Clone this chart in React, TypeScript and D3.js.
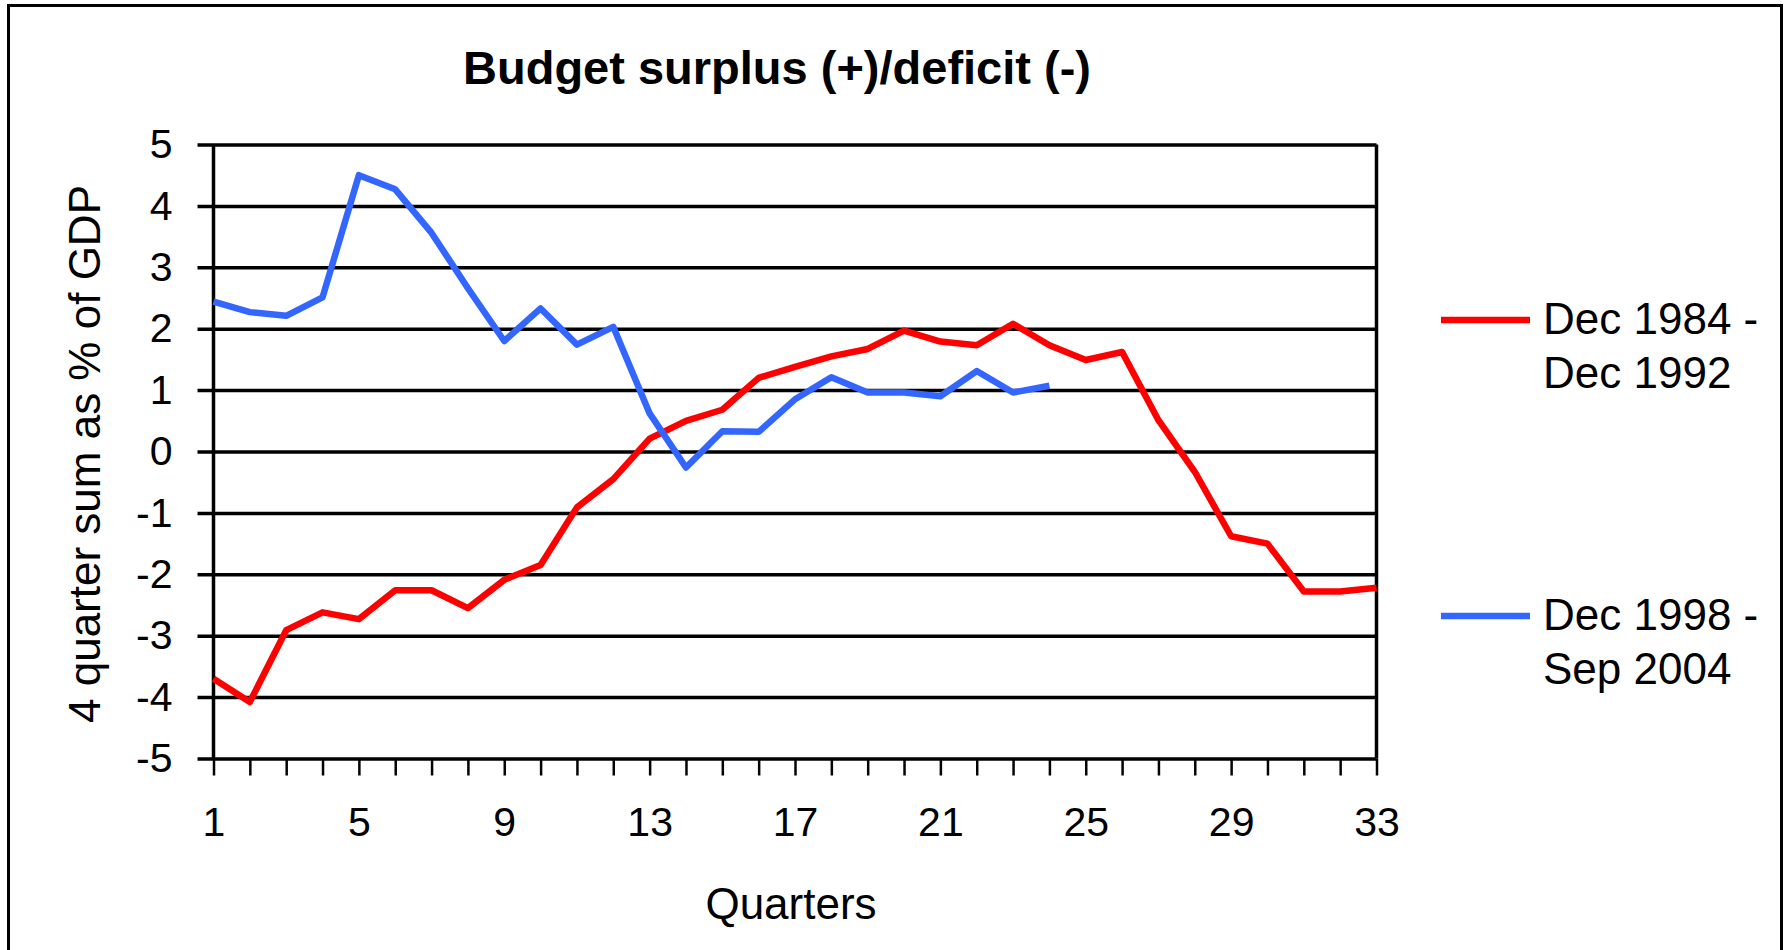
import { useRef, useEffect } from "react";
import * as d3 from "d3";

// quarters 1..33
const quarters = d3.range(1, 34);
const xTickLabels = [1, 5, 9, 13, 17, 21, 25, 29, 33];
const yTicks = [5, 4, 3, 2, 1, 0, -1, -2, -3, -4, -5];

// Dec 1984 - Dec 1992
const series1984 = [
  -3.7, -4.08, -2.91, -2.62, -2.73, -2.26, -2.26, -2.55, -2.09, -1.85, -0.91,
  -0.45, 0.21, 0.5, 0.68, 1.2, 1.38, 1.55, 1.67, 1.97, 1.79, 1.73, 2.08, 1.73,
  1.49, 1.62, 0.51, -0.33, -1.38, -1.5, -2.28, -2.28, -2.22,
];
// Dec 1998 - Sep 2004
const series1998 = [
  2.44, 2.27, 2.21, 2.51, 4.5, 4.27, 3.56, 2.66, 1.8, 2.33, 1.74, 2.03, 0.62,
  -0.26, 0.33, 0.32, 0.85, 1.21, 0.96, 0.96, 0.9, 1.31, 0.96, 1.07,
];

const legendItems = [
  { lines: ["Dec 1984 -", "Dec 1992"], color: "#ff0000" },
  { lines: ["Dec 1998 -", "Sep 2004"], color: "#3366ff" },
];

const FONT = "'Liberation Sans', Arial, sans-serif";

export default function App() {
  const svgRef = useRef<SVGSVGElement>(null);

  useEffect(() => {
    const W = 1791;
    const H = 950;
    const m = { left: 213.5, right: 1376.5, top: 144.5, bottom: 758.5 };
    const plotW = m.right - m.left;

    const svg = d3.select(svgRef.current).attr("width", W).attr("height", H);
    svg.selectAll("*").remove();

    // outer frame (bottom edge is cut off in the original)
    svg
      .append("rect")
      .attr("x", 8.5)
      .attr("y", 5.5)
      .attr("width", 1773)
      .attr("height", 1100)
      .attr("fill", "white")
      .attr("stroke", "black")
      .attr("stroke-width", 3);

    const x = d3.scaleLinear().domain([1, 33]).range([m.left, m.right]);
    const y = d3.scaleLinear().domain([-5, 5]).range([m.bottom, m.top]);

    // y axis + gridlines
    const yAxis = svg
      .append("g")
      .attr("transform", `translate(${m.left},0)`)
      .call(
        d3
          .axisLeft(y)
          .tickValues(yTicks)
          .tickSize(-plotW)
          .tickPadding(41)
          .tickFormat((d) => String(d))
      );
    yAxis.select(".domain").remove();
    yAxis
      .selectAll(".tick line")
      .attr("x1", -16)
      .attr("stroke", "black")
      .attr("stroke-width", 3.5);
    yAxis
      .selectAll(".tick text")
      .attr("font-family", FONT)
      .attr("font-size", 41)
      .attr("fill", "black");

    // x axis
    const xAxis = svg
      .append("g")
      .attr("transform", `translate(0,${m.bottom})`)
      .call(
        d3
          .axisBottom(x)
          .tickValues(quarters)
          .tickSize(17)
          .tickPadding(31)
          .tickFormat((d) => (xTickLabels.includes(+d) ? String(d) : ""))
      );
    xAxis.select(".domain").remove();
    xAxis
      .selectAll(".tick line")
      .attr("stroke", "black")
      .attr("stroke-width", 2.5);
    xAxis
      .selectAll(".tick text")
      .attr("font-family", FONT)
      .attr("font-size", 41)
      .attr("fill", "black");

    // axis line and right border
    svg
      .append("line")
      .attr("x1", m.left)
      .attr("x2", m.left)
      .attr("y1", m.top)
      .attr("y2", m.bottom)
      .attr("stroke", "black")
      .attr("stroke-width", 3.5);
    svg
      .append("line")
      .attr("x1", m.right)
      .attr("x2", m.right)
      .attr("y1", m.top)
      .attr("y2", m.bottom)
      .attr("stroke", "black")
      .attr("stroke-width", 3.5);

    const line = d3
      .line<number>()
      .x((d, i) => x(quarters[i]))
      .y((d) => y(d));

    svg
      .append("path")
      .datum(series1984)
      .attr("d", line)
      .attr("fill", "none")
      .attr("stroke", legendItems[0].color)
      .attr("stroke-width", 6.5)
      .attr("stroke-linejoin", "round");

    svg
      .append("path")
      .datum(series1998)
      .attr("d", line)
      .attr("fill", "none")
      .attr("stroke", legendItems[1].color)
      .attr("stroke-width", 6.5)
      .attr("stroke-linejoin", "round");

    // title
    svg
      .append("text")
      .attr("x", 777)
      .attr("y", 84)
      .attr("text-anchor", "middle")
      .attr("font-family", FONT)
      .attr("font-weight", "bold")
      .attr("font-size", 47)
      .text("Budget surplus (+)/deficit (-)");

    // axis titles
    svg
      .append("text")
      .attr("transform", "translate(100,454) rotate(-90)")
      .attr("text-anchor", "middle")
      .attr("font-family", FONT)
      .attr("font-size", 44)
      .text("4 quarter sum as % of GDP");

    svg
      .append("text")
      .attr("x", 791)
      .attr("y", 919)
      .attr("text-anchor", "middle")
      .attr("font-family", FONT)
      .attr("font-size", 44)
      .text("Quarters");

    // legend
    const legendY = [320, 616];
    legendItems.forEach((item, i) => {
      const g = svg.append("g").attr("transform", `translate(0,${legendY[i]})`);
      g.append("line")
        .attr("x1", 1441)
        .attr("x2", 1530)
        .attr("y1", 0)
        .attr("y2", 0)
        .attr("stroke", item.color)
        .attr("stroke-width", 6.5);
      item.lines.forEach((t, j) => {
        g.append("text")
          .attr("x", 1543)
          .attr("y", 14 + j * 54)
          .attr("font-family", FONT)
          .attr("font-size", 44)
          .text(t);
      });
    });
  }, []);

  return (
    <svg
      ref={svgRef}
      style={{ position: "absolute", left: 0, top: 0, display: "block" }}
    ></svg>
  );
}
